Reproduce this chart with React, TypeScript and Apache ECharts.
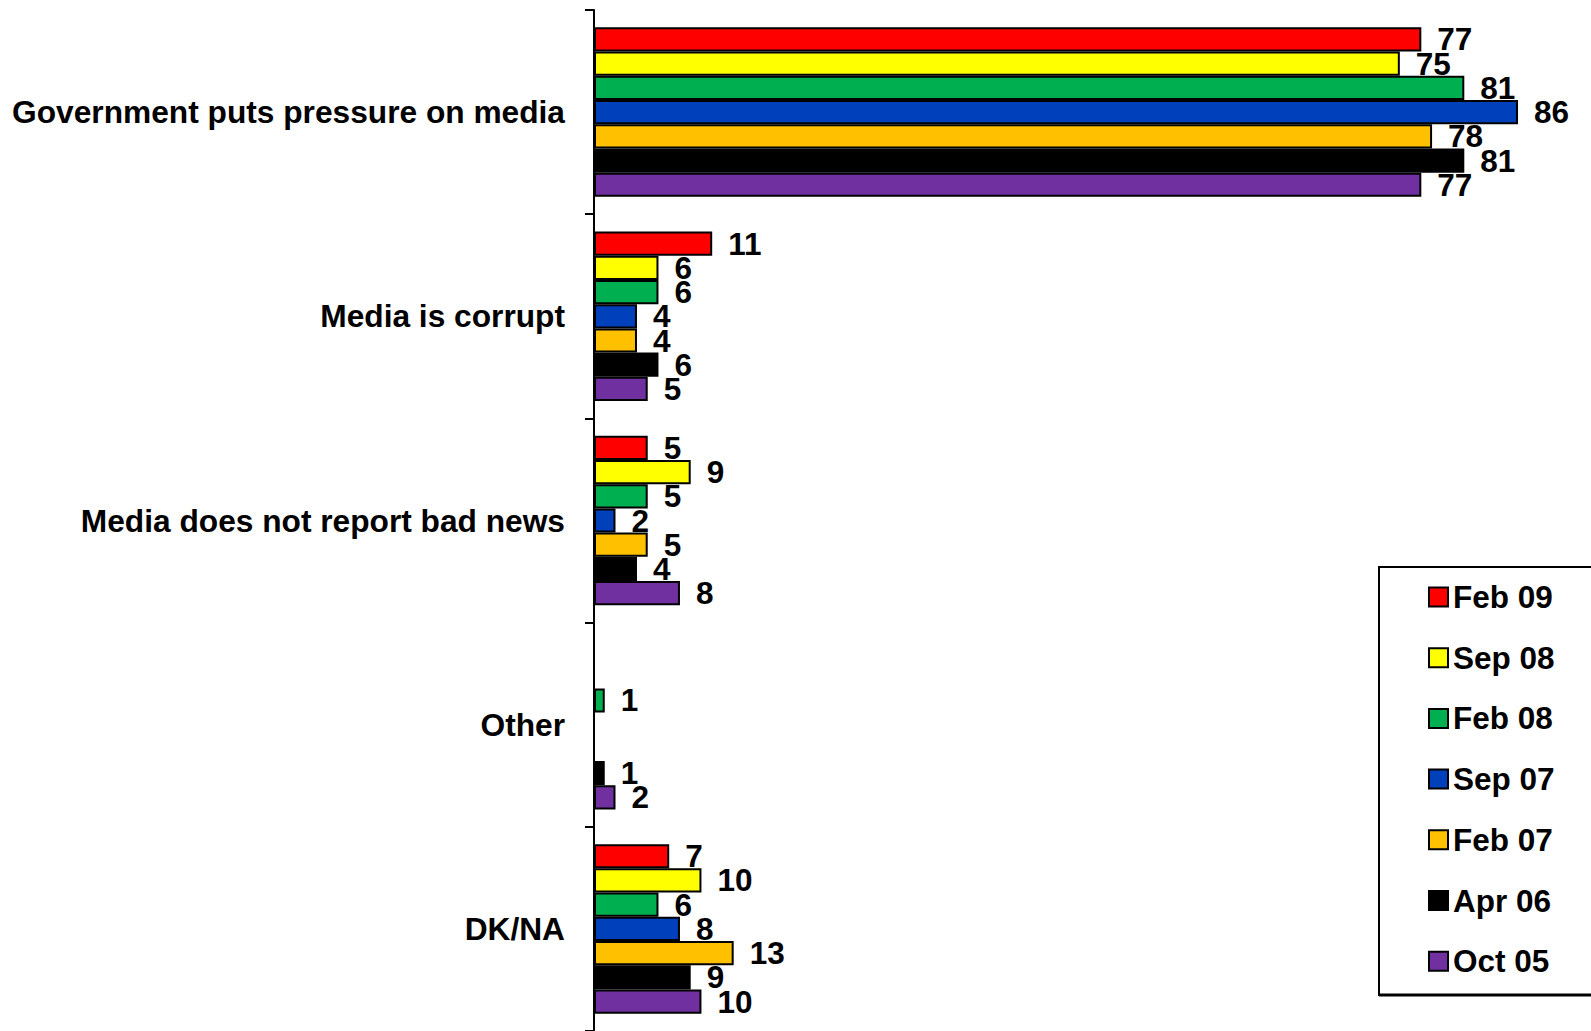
import React, { useEffect, useRef } from "react";
import * as echarts from "echarts";

const categories = [
  "Government puts pressure on media",
  "Media is corrupt",
  "Media does not report bad news",
  "Other",
  "DK/NA",
];

const seriesNames = ["Feb 09", "Sep 08", "Feb 08", "Sep 07", "Feb 07", "Apr 06", "Oct 05"];
const seriesColors = ["#FF0000", "#FFFF00", "#00B050", "#0040BB", "#FFC000", "#000000", "#7030A0"];

const feb09 = [77, 11, 5, null, 7];
const sep08 = [75, 6, 9, null, 10];
const feb08 = [81, 6, 5, 1, 6];
const sep07 = [86, 4, 2, null, 8];
const feb07 = [78, 4, 5, null, 13];
const apr06 = [81, 6, 4, 1, 9];
const oct05 = [77, 5, 8, 2, 10];

const seriesValues = [feb09, sep08, feb08, sep07, feb07, apr06, oct05];

const FONT = 'Arial, "Liberation Sans", sans-serif';

export default function App() {
  const ref = useRef<HTMLDivElement>(null);
  useEffect(() => {
    if (!ref.current) return;
    const chart = echarts.init(ref.current, null, { renderer: "svg" });
    chart.setOption({
      animation: false,
      backgroundColor: "#ffffff",
      grid: { left: 594, top: 10, width: 967, height: 1025, containLabel: false },
      xAxis: { type: "value", min: 0, max: 90, show: false },
      yAxis: {
        type: "category",
        inverse: true,
        data: categories,
        axisLine: { show: true, lineStyle: { color: "#000", width: 2 } },
        axisTick: { show: true, length: 9, lineStyle: { color: "#000", width: 2 } },
        axisLabel: {
          fontSize: 31.7,
          fontWeight: "bold",
          color: "#000",
          fontFamily: FONT,
          margin: 29,
        },
      },
      legend: {
        orient: "vertical",
        left: 1428,
        top: 581,
        padding: 0,
        itemWidth: 19,
        itemHeight: 19,
        itemGap: 28.7,
        icon: "rect",
        textStyle: { fontSize: 31.5, fontWeight: "bold", color: "#000", fontFamily: FONT, lineHeight: 30 },
        data: seriesNames,
      },
      graphic: [
        {
          type: "rect",
          shape: { x: 1379, y: 567, width: 260, height: 428 },
          style: { fill: "none", stroke: "#000", lineWidth: 2 },
        },
        {
          type: "line",
          shape: { x1: 1379, y1: 995, x2: 1600, y2: 995 },
          style: { stroke: "#000", lineWidth: 3 },
        },
      ],
      series: seriesNames.map((name, i) => ({
        type: "bar",
        name,
        data: seriesValues[i],
        barGap: "0%",
        barCategoryGap: "17%",
        itemStyle: { color: seriesColors[i], borderColor: "#000", borderWidth: 2 },
        label: {
          show: true,
          position: "right",
          distance: 16,
          fontSize: 31.5,
          fontWeight: "bold",
          color: "#000",
          fontFamily: FONT,
        },
      })),
    });
    return () => chart.dispose();
  }, []);
  return (
    <div
      ref={ref}
      style={{ position: "absolute", left: 0, top: 0, width: 1591, height: 1031 }}
    />
  );
}
